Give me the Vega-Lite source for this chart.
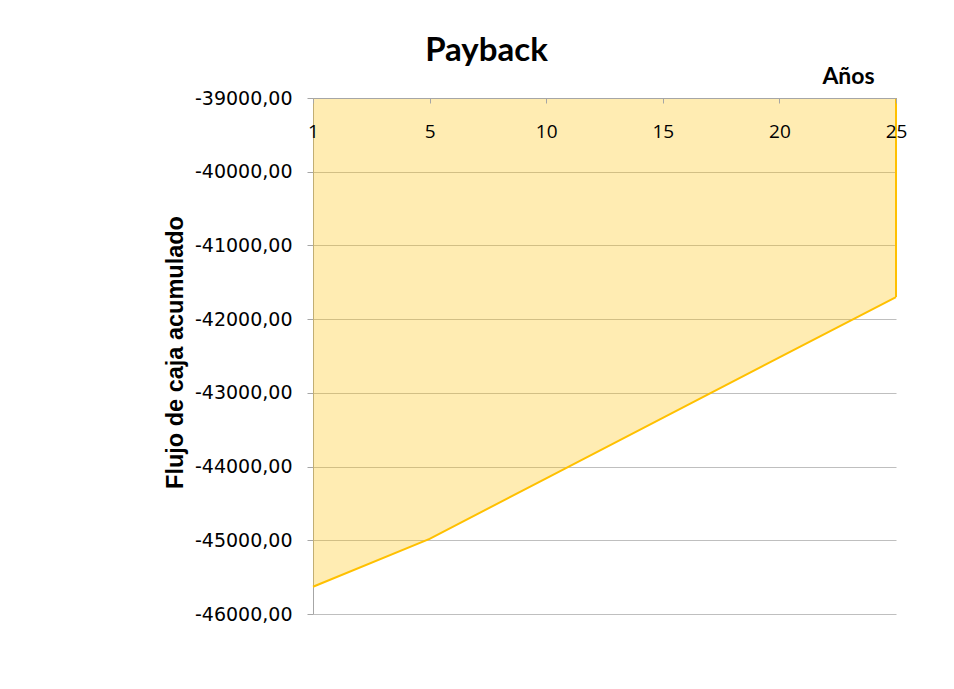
{
  "$schema": "https://vega.github.io/schema/vega-lite/v6.json",
  "width": 583,
  "height": 516,
  "autosize": "none",
  "padding": {"left": 313, "top": 98, "right": 58, "bottom": 75},
  "background": "white",
  "title": {
    "text": "Payback",
    "anchor": "middle",
    "dx": -118,
    "dy": 7,
    "font": "Lato",
    "fontSize": 33,
    "fontWeight": "bold",
    "color": "#000000"
  },
  "data": {
    "values": [
      {"year": 1, "flujo": -45630},
      {"year": 5, "flujo": -44980},
      {"year": 10, "flujo": -44160},
      {"year": 15, "flujo": -43340},
      {"year": 20, "flujo": -42520},
      {"year": 25, "flujo": -41700}
    ]
  },
  "layer": [
    {
      "mark": {"type": "area", "color": "#FFC000", "opacity": 0.3},
      "encoding": {
        "x": {
          "field": "year",
          "type": "ordinal",
          "scale": {"type": "point", "padding": 0},
          "axis": {
            "orient": "bottom",
            "offset": -516,
            "zindex": 1,
            "title": "Años",
            "titleFont": "Lato",
            "titleFontSize": 23,
            "titleFontWeight": "bold",
            "titleColor": "#000000",
            "titleX": 535,
            "titleY": -15,
            "titleAlign": "center",
            "titleBaseline": "alphabetic",
            "labelAngle": 0,
            "labelFont": "Open Sans",
            "labelFontSize": 19,
            "labelColor": "#000000",
            "labelPadding": 19,
            "labelOverlap": false,
            "labelBound": false,
            "tickSize": 5,
            "tickColor": "#A6A6A6",
            "domainColor": "#A6A6A6",
            "grid": false
          }
        },
        "y": {
          "field": "flujo",
          "type": "quantitative",
          "scale": {"domain": [-46000, -39000], "nice": false, "zero": false},
          "axis": {
            "values": [-46000, -45000, -44000, -43000, -42000, -41000, -40000, -39000],
            "format": ".2f",
            "title": "Flujo de caja acumulado",
            "titleFont": "Liberation Sans",
            "titleFontSize": 23.5,
            "titleFontWeight": "bold",
            "titleColor": "#000000",
            "titleX": -138,
            "titleY": 254,
            "titleAlign": "center",
            "titleBaseline": "middle",
            "labelFont": "DejaVu Sans",
            "labelFontSize": 19,
            "labelColor": "#000000",
            "labelPadding": 15,
            "tickSize": 6,
            "tickColor": "#A6A6A6",
            "domainColor": "#A6A6A6",
            "gridColor": "#BFBFBF",
            "gridWidth": 1
          }
        },
        "y2": {"datum": -39000}
      }
    },
    {
      "mark": {"type": "line", "color": "#FFC000", "strokeWidth": 2},
      "encoding": {
        "x": {"field": "year", "type": "ordinal"},
        "y": {"field": "flujo", "type": "quantitative"}
      }
    },
    {
      "transform": [{"filter": "datum.year == 25"}],
      "mark": {"type": "rule", "color": "#FFC000", "strokeWidth": 2},
      "encoding": {
        "x": {"field": "year", "type": "ordinal"},
        "y": {"field": "flujo", "type": "quantitative"},
        "y2": {"datum": -39000}
      }
    }
  ],
  "config": {
    "locale": {
      "number": {"decimal": ",", "thousands": ".", "grouping": [3], "currency": ["", ""], "minus": "-"}
    },
    "view": {"stroke": null}
  }
}
